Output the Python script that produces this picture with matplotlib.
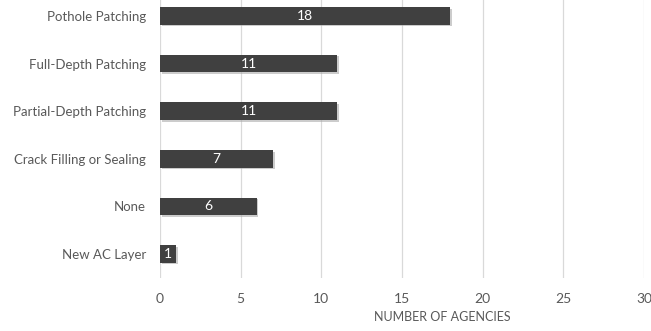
import matplotlib.pyplot as plt
import matplotlib.patheffects as pe

categories = ['Pothole Patching', 'Full-Depth Patching', 'Partial-Depth Patching',
              'Crack Filling or Sealing', 'None', 'New AC Layer']
agencies = [18, 11, 11, 7, 6, 1]
xticks = [0, 5, 10, 15, 20, 25, 30]

plt.rcParams['font.family'] = ['Lato', 'DejaVu Sans']

fig = plt.figure(figsize=(6.51, 3.31), dpi=100)
ax = fig.add_axes([0.2458, 0.1607, 0.7435, 0.8629])

ypos = list(range(len(categories)))
bars = ax.barh(ypos, agencies, height=0.37, color='#404040', zorder=3)
for b in bars:
    b.set_path_effects([pe.SimplePatchShadow(offset=(1.2, -1.2), shadow_rgbFace='#aaaaaa', alpha=0.6),
                        pe.Normal()])
for y, v in zip(ypos, agencies):
    ax.text(v / 2, y, str(v), color='white', ha='center', va='center', fontsize=10, zorder=4)

ax.set_ylim(len(categories) - 0.5, -0.5)
ax.set_xlim(0, 30)
ax.set_xticks(xticks)
ax.set_yticks(ypos)
ax.set_yticklabels(categories)
ax.grid(axis='x', color='#d9d9d9', linewidth=0.9, zorder=0)
for s in ax.spines.values():
    s.set_visible(False)
ax.tick_params(length=0, colors='#595959', labelsize=9.5)
ax.tick_params(axis='x', pad=11, labelsize=10)
ax.tick_params(axis='y', pad=10)
ax.set_xlabel('NUMBER OF AGENCIES', color='#595959', fontsize=9)
ax.xaxis.set_label_coords(0.584, -0.115)

fig.savefig('out.png', dpi=100)
